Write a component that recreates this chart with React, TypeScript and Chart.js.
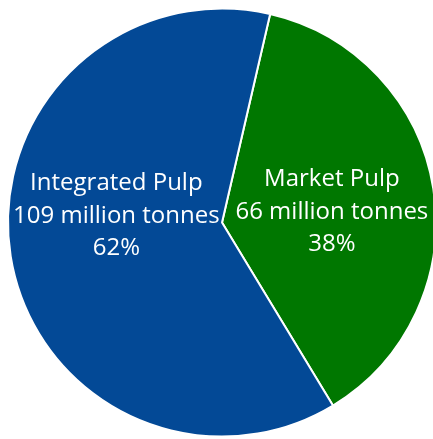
import React, { useEffect, useRef } from "react";
import { Chart, registerables } from "chart.js";

Chart.register(...registerables);

const categories = ["Market Pulp", "Integrated Pulp"];
const tonnes = [66, 109];
const amountLabels = ["66 million tonnes", "109 million tonnes"];
const percentLabels = ["38%", "62%"];
const colors = ["#007700", "#034996"];
// label placement style: radial fraction and vertical nudge (px)
const labelRadial = [0.52, 0.5];
const labelNudge = [7, -23.5];

const labelPlugin = {
  id: "sliceLabels",
  afterDatasetsDraw(chart: any) {
    const ctx = chart.ctx;
    const meta = chart.getDatasetMeta(0);
    ctx.save();
    ctx.fillStyle = "#ffffff";
    ctx.font = '24px "Open Sans"';
    ctx.textAlign = "center";
    ctx.textBaseline = "middle";
    meta.data.forEach((arc: any, i: number) => {
      const { x, y, startAngle, endAngle, outerRadius } = arc.getProps(
        ["x", "y", "startAngle", "endAngle", "outerRadius"],
        true
      );
      const mid = (startAngle + endAngle) / 2;
      const d = outerRadius * labelRadial[i];
      const px = x + Math.cos(mid) * d;
      const py = y + Math.sin(mid) * d + labelNudge[i];
      const lh = 32.5;
      ctx.fillText(categories[i], px, py - lh);
      ctx.fillText(amountLabels[i], px, py);
      ctx.fillText(percentLabels[i], px, py + lh);
    });
    ctx.restore();
  },
};

export default function App() {
  const ref = useRef<HTMLCanvasElement | null>(null);
  useEffect(() => {
    document.documentElement.style.overflow = "hidden";
    document.body.style.margin = "0";
    document.body.style.overflow = "hidden";
    const chart = new Chart(ref.current as HTMLCanvasElement, {
      type: "pie",
      data: {
        labels: categories,
        datasets: [
          {
            data: tonnes,
            backgroundColor: colors,
            borderColor: "#ffffff",
            borderWidth: 2,
          },
        ],
      },
      options: {
        responsive: false,
        animation: false,
        rotation: 13,
        layout: { padding: 7 },
        plugins: {
          legend: { display: false },
          tooltip: { enabled: false },
        },
      },
      plugins: [labelPlugin],
    });
    return () => chart.destroy();
  }, []);
  return (
    <div style={{ position: "relative", width: 433, height: 439, overflow: "hidden", background: "#fff" }}>
      <canvas ref={ref} width={444} height={445} style={{ position: "absolute", left: 0, top: 0, width: 444, height: 445 }} />
    </div>
  );
}
